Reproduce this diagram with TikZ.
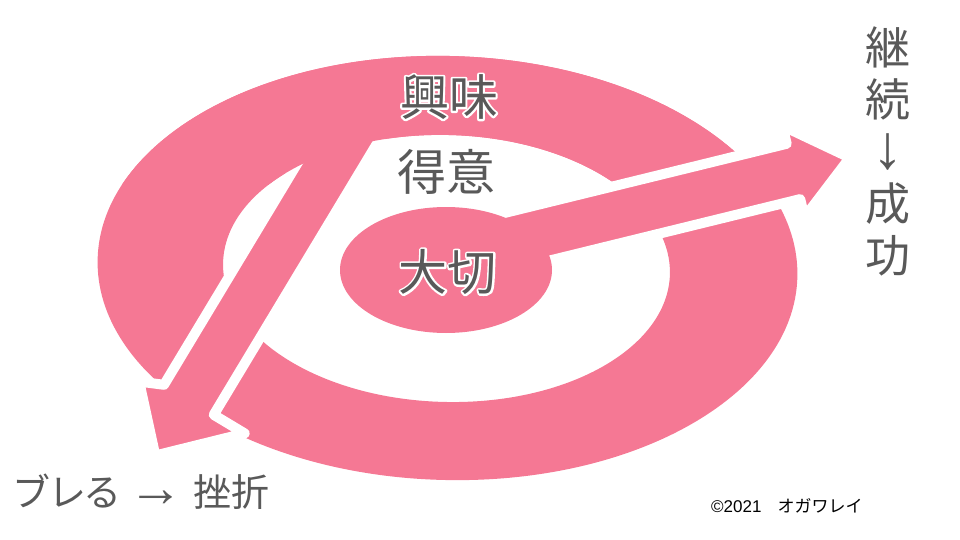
\documentclass[tikz,border=0pt]{standalone}
\usepackage{fontspec}
\setmainfont{Noto Sans CJK JP}
\newfontfamily\latinsans{Liberation Sans}
\definecolor{ringpink}{HTML}{F57894}
\definecolor{txtgray}{HTML}{595959}
\newcommand{\haloed}[1]{%
  \rlap{\special{pdf:literal direct q 1 Tr 4 w 1 j 1 1 1 RG}#1\special{pdf:literal direct Q}}#1}
\tikzset{
  pinkfill/.style={fill=ringpink},
  cutline/.style={draw=white, line width=10pt, line join=round},
  bigtxt/.style={text=txtgray, inner sep=0pt, font=\fontsize{49}{55}\selectfont},
  ringshape/.style={fill=ringpink, even odd rule, rotate around={-1.5:(447.5,268)}}
}
\begin{document}
\begin{tikzpicture}[x=1pt,y=-1pt]
\useasboundingbox (0,0) rectangle (960,540);
% ring
\fill[ringshape] (447.5,268) ellipse[x radius=350pt, y radius=212pt]
                 (446.5,268.5) ellipse[x radius=223.5pt, y radius=133.5pt];
% arrow going down-left
\path[pinkfill, cutline] (347.2,80.6) -- (164.0,384.8) -- (139.2,381.6) -- (155.3,455.5)
   -- (244.7,433.4) -- (213.7,414.8) -- (396.9,110.5) -- cycle;
% ring top drawn again over the arrow's start
\begin{scope}
  \clip (0,0) rectangle (960,184);
  \fill[ringshape] (447.5,268) ellipse[x radius=350pt, y radius=212pt]
                   (446.5,268.5) ellipse[x radius=223.5pt, y radius=133.5pt];
\end{scope}
% arrow going up-right
\path[pinkfill, cutline] (485.7,217.6) -- (786.7,143.8) -- (782.3,125.8) -- (849.8,157.7)
   -- (804.6,217.1) -- (800.2,199.1) -- (499.2,272.9) -- cycle;
% centre
\fill[ringpink] (446,270) ellipse[x radius=106pt, y radius=63pt];
% texts
\node[bigtxt] (kyomi) at (449,97) {\haloed{興味}};
\node[bigtxt] (tokui) at (446,172) {得意};
\node[bigtxt] (taisetsu) at (447.5,272) {\haloed{大切}};
\node[text=txtgray, font=\fontsize{45}{52}\selectfont, align=center, inner sep=0pt] (seiko) at (888,151)
  {継\\続\\{\latinsans\fontsize{62}{52}\selectfont\smash{↓}}\\成\\功};
\node[text=txtgray, font=\fontsize{38}{44}\selectfont, anchor=west, inner sep=0pt] (zasetsu) at (12,492)
  {ブ\kern-2ptレ\kern-3ptる\hspace{7pt}{\latinsans\fontsize{55}{44}\selectfont\smash{→}}\hspace{10pt}挫折};
\node[text=black, font=\fontsize{17}{19}\selectfont, anchor=west, inner sep=0pt] (copyr) at (711,506)
  {{\latinsans ©2021}\hspace{16pt}オガワレイ};
\end{tikzpicture}
\end{document}
